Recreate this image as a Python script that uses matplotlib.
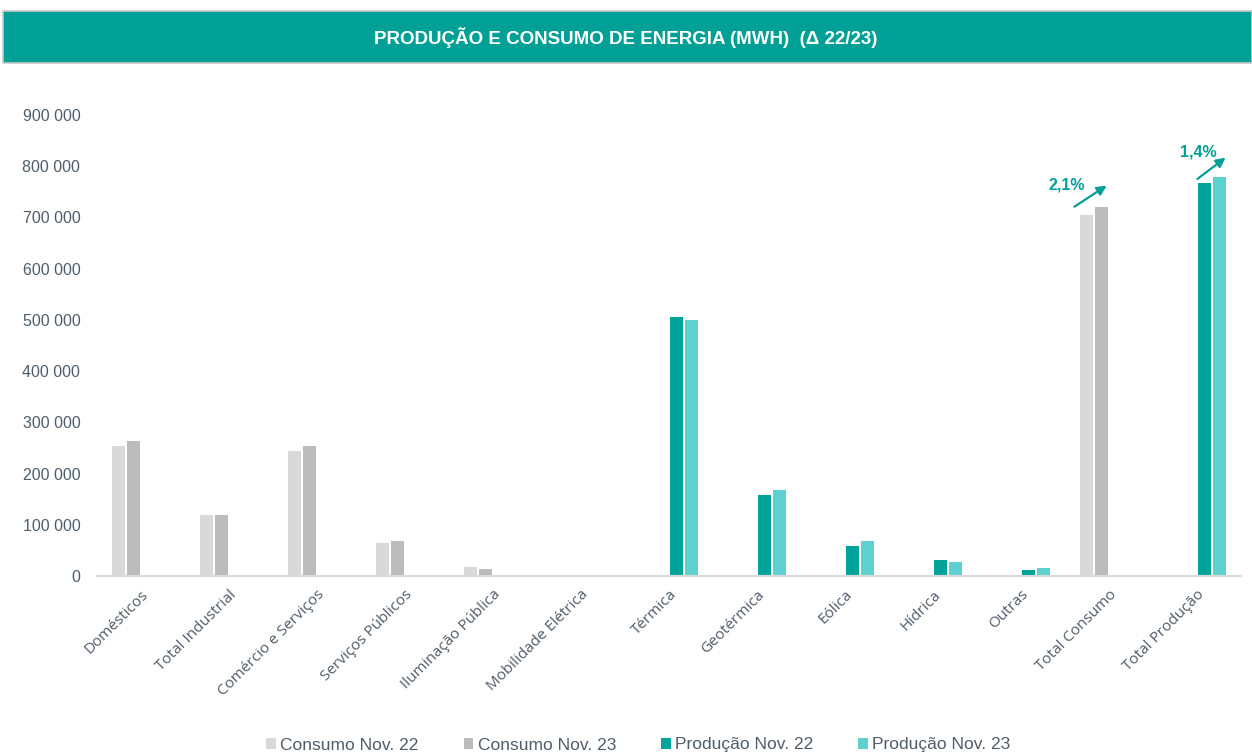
import numpy as np
import matplotlib.pyplot as plt
from matplotlib.patches import Rectangle
from matplotlib.ticker import FuncFormatter

categorias = ["Domésticos", "Total Industrial", "Comércio e Serviços", "Serviços Públicos",
              "Iluminação Pública", "Mobilidade Elétrica", "Térmica", "Geotérmica", "Eólica",
              "Hídrica", "Outras", "Total Consumo", "Total Produção"]

consumo_22 = [254000, 119000, 244000, 64000, 18000, 500, 0, 0, 0, 0, 0, 705000, 0]
consumo_23 = [264000, 119000, 254000, 68000, 14000, 500, 0, 0, 0, 0, 0, 720000, 0]
producao_22 = [0, 0, 0, 0, 0, 0, 506000, 158000, 59000, 31000, 12000, 0, 768000]
producao_23 = [0, 0, 0, 0, 0, 0, 500000, 168000, 68000, 27000, 15000, 0, 779000]

series = ["Consumo Nov. 22", "Consumo Nov. 23", "Produção Nov. 22", "Produção Nov. 23"]
cores = ["#d9d9d9", "#bcbcbc", "#00a39a", "#5fd0d2"]

teal = "#00a097"
txt_cor = "#4f5c6a"

fig = plt.figure(figsize=(12.52, 7.54), dpi=100)

# faixa do titulo
fig.patches.append(Rectangle((3/1252, 1-63/754), 1-3/1252, 52/754, transform=fig.transFigure,
                             facecolor=teal, edgecolor="#c8c8c8", lw=1.2))
fig.text(0.5, 1-38/754, "PRODUÇÃO E CONSUMO DE ENERGIA (MWH)  (Δ 22/23)", color="white",
         fontsize=13.5, fontweight="bold", family="Liberation Sans", ha="center", va="center")

ax = fig.add_axes([97/1252, 1-576/754, (1241-97)/1252, (576-115)/754])

x = np.arange(len(categorias))
passo = 0.17
larg = 0.145
dados = [consumo_22, consumo_23, producao_22, producao_23]
for i, (vals, nome, cor) in enumerate(zip(dados, series, cores)):
    ax.bar(x + (i - 1.5) * passo, vals, larg, color=cor, label=nome)

ax.set_xlim(-0.5, len(categorias) - 0.5)
ax.set_ylim(0, 900000)
ax.set_yticks(np.arange(0, 900001, 100000))
ax.yaxis.set_major_formatter(FuncFormatter(lambda v, p: f"{int(v):,}".replace(",", " ")))
for s in ["top", "right", "left"]:
    ax.spines[s].set_visible(False)
ax.spines["bottom"].set_color("#d9d9d9")
ax.spines["bottom"].set_linewidth(1.5)
ax.tick_params(length=0)
ax.tick_params(axis="y", pad=12, labelsize=11.5, labelcolor=txt_cor)
for t in ax.get_yticklabels():
    t.set_family("Liberation Sans")
ax.set_xticks(x)
ax.set_xticklabels(categorias, rotation=45, ha="right", rotation_mode="anchor",
                   fontsize=11, color=txt_cor, family="Open Sans")
ax.tick_params(axis="x", pad=8)

# setas de variacao
i_c = categorias.index("Total Consumo")
i_p = categorias.index("Total Produção")
var_c = (consumo_23[i_c] / consumo_22[i_c] - 1) * 100
var_p = (producao_23[i_p] / producao_22[i_p] - 1) * 100
ax.annotate("", xy=(i_c + 0.0, 765000), xytext=(i_c - 0.42, 718000),
            arrowprops=dict(arrowstyle="-|>", color=teal, lw=1.6, mutation_scale=14))
ax.text(i_c - 0.48, 763000, f"{var_c:.1f}%".replace(".", ","), color=teal, fontsize=11.5,
        fontweight="bold", ha="center", va="center", family="Liberation Sans")
ax.annotate("", xy=(i_p + 0.35, 820000), xytext=(i_p - 0.02, 772000),
            arrowprops=dict(arrowstyle="-|>", color=teal, lw=1.6, mutation_scale=14))
ax.text(i_p + 0.02, 828000, f"{var_p:.1f}%".replace(".", ","), color=teal, fontsize=11.5,
        fontweight="bold", ha="center", va="center", family="Liberation Sans")

leg = fig.legend(loc="center", bbox_to_anchor=(0.51, 1-745/754), ncol=4, frameon=False,
                 handlelength=0.55, handleheight=0.55, handletextpad=0.25,
                 columnspacing=2.6, prop={"family": "Liberation Sans", "size": 12.5})
for t in leg.get_texts():
    t.set_color(txt_cor)

fig.savefig("out.png", dpi=100)
